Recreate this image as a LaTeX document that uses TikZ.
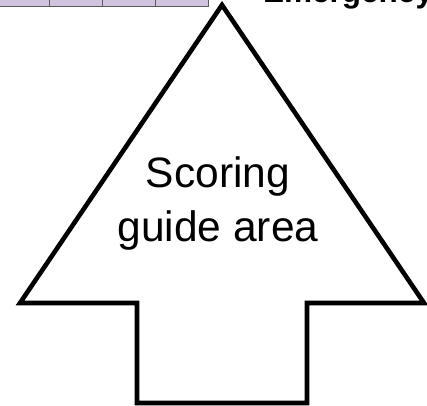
\documentclass[tikz,border=0pt]{standalone}
\usepackage{fontspec}
\setmainfont{Liberation Sans}
\definecolor{lav}{HTML}{CFC3DF}
\definecolor{rowline}{HTML}{5A5A5A}
\begin{document}
\begin{tikzpicture}[x=1pt,y=1pt,
  arrowshape/.style={draw=black,line width=4.6pt,line join=miter,fill=white},
  cell/.style={fill=lav,draw=rowline,line width=0.9pt}]
\useasboundingbox (0,0) rectangle (427,405);
\clip (0,0) rectangle (427,405);
% table strip at top left
\draw[cell] (-2,399) rectangle (208,412);
\draw[draw=rowline,line width=0.7pt] (49,399) -- (49,412) (102,399) -- (102,412) (155,399) -- (155,412);
% header text
\node[anchor=base west,inner sep=0pt,font=\fontsize{31.5}{36}\selectfont\bfseries] (hdr) at (263,402) {Emergency};
% big arrow
\coordinate (tip) at (222,400);
\coordinate (rc) at (424,102);
\coordinate (rs) at (307,102);
\coordinate (rb) at (307,2);
\coordinate (lb) at (137,2);
\coordinate (ls) at (137,102);
\coordinate (lc) at (20,102);
\draw[arrowshape] (tip) -- (rc) -- (rs) -- (rb) -- (lb) -- (ls) -- (lc) -- cycle;
\node[align=center,inner sep=0pt,font=\fontsize{42.5}{54}\selectfont] (lbl) at (218,201) {Scoring\\guide area};
\end{tikzpicture}
\end{document}
